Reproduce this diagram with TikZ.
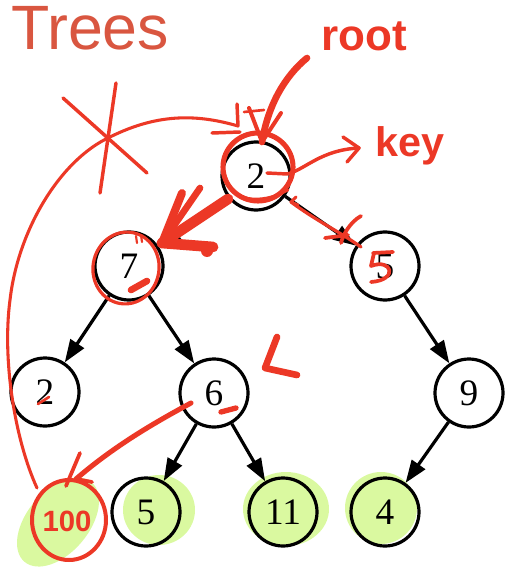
\documentclass[tikz,border=0pt]{standalone}
\usepackage{fontspec}
\setmainfont{Liberation Serif}
\newfontfamily\titlefont{Liberation Sans}
\newfontfamily\handfont{Liberation Sans}
\usetikzlibrary{arrows.meta}
\definecolor{ink}{RGB}{236,56,38}
\definecolor{titlered}{RGB}{217,86,64}
\definecolor{hilite}{RGB}{218,249,160}
\begin{document}
\begin{tikzpicture}[x=0.75pt,y=-0.75pt,
  tnode/.style={circle,draw=black,line width=2.4pt,minimum size=51pt,inner sep=0pt,font=\fontsize{28}{30}\selectfont},
  tedge/.style={line width=2.4pt,-{Triangle[length=17pt,width=12pt]}},
  pen/.style={draw=ink,line width=2.6pt,line cap=round,line join=round},
  thickpen/.style={pen,line width=5pt},
  blob/.style={fill=hilite},
  handtext/.style={text=ink,inner sep=0pt}]
\path[use as bounding box] (0,0) rectangle (506,570);

% title
\node[anchor=base west,inner sep=0pt,text=titlered,font=\titlefont\fontsize{47}{50}\selectfont] (title) at (11,50) {Trees};

% highlights
\fill[blob,rotate around={50:(58,522)}] (58,522) ellipse [x radius=52, y radius=31];
\fill[blob] (159,510) ellipse [x radius=36, y radius=35];
\fill[blob] (286,509) ellipse [x radius=43, y radius=37];
\fill[blob] (381,508) ellipse [x radius=36, y radius=36];

% tree
\node[tnode] (r) at (256,176) {2};
\node[tnode] (a) at (129,266) {7};
\node[tnode] (b) at (385,266) {5};
\node[tnode] (c) at (45,392) {2};
\node[tnode] (d) at (214,393) {6};
\node[tnode] (e) at (469,393) {9};
\node[tnode] (f) at (146,512) {5};
\node[tnode] (g) at (283,512) {11};
\node[tnode] (h) at (385,512) {4};

\draw[tedge] (r) -- (a);
\draw[tedge] (r) -- (b);
\draw[tedge] (a) -- (c);
\draw[tedge] (a) -- (d);
\draw[tedge] (b) -- (e);
\draw[tedge] (d) -- (f);
\draw[tedge] (d) -- (g);
\draw[tedge] (e) -- (h);

% handwritten node 100
\node[handtext,font=\handfont\bfseries\fontsize{22}{24}\selectfont] (hund) at (67,521) {100};
\draw[pen,line width=3pt] (69,520) ellipse [x radius=37, y radius=40];

% annotations: root
\node[handtext,font=\handfont\bfseries\fontsize{33}{36}\selectfont] (rootlbl) at (364,36) {root};
\coordinate (rootstart) at (307,58);
\coordinate (roottip) at (262,142);
\draw[pen,line width=5pt] (rootstart) .. controls (285,76) and (268,105) .. (roottip);
\draw[pen,line width=3pt] (249,108) -- (roottip) -- (281,113);
\draw[pen,line width=2pt] (244,112) -- (264,110);

% key
\node[handtext,font=\handfont\bfseries\fontsize{31}{34}\selectfont] (keylbl) at (410,146) {key};
\coordinate (keystart) at (267,173);
\coordinate (keytip) at (359,148);
\draw[pen] (keystart) -- (287,174) .. controls (305,170) and (320,150) .. (keytip);
\draw[pen] (343,137) -- (keytip) -- (347,162);

% circle around root
\draw[pen,line width=3.8pt] (258,167) ellipse [x radius=35, y radius=34];
\draw[pen,line width=2pt] (226,178) .. controls (228,200) and (260,206) .. (288,190);

% long curve from 100 to root, with asterisk
\coordinate (curvestart) at (37,488);
\coordinate (curvetip) at (238,126);
\draw[pen,line width=2.3pt] (curvestart) .. controls (15,440) and (2,360) .. (10,300)
  .. controls (18,230) and (60,160) .. (110,137)
  .. controls (160,112) and (200,115) .. (curvetip);
\draw[pen] (237,104) -- (curvetip);
\draw[pen] (212,133) -- (240,132);
\draw[pen] (63,98) -- (147,173);
\draw[pen] (116,83) -- (100,193);

% thick arrow root to 7
\coordinate (thicktip) at (162,243);
\draw[thickpen,line width=8pt] (228,199) -- (thicktip);
\draw[thickpen,line width=6pt] (thicktip) -- (182,193);
\draw[thickpen] (thicktip) -- (200,188);
\draw[thickpen,line width=8pt] (thicktip) -- (213,247);
\fill[ink] (207,251) circle [radius=6];

% circle around 7 and marks
\draw[pen,line width=2.4pt,rotate around={-10:(126,268)}] (126,268) ellipse [x radius=33, y radius=36];
\draw[pen,line width=1.6pt] (136,236) -- (137,243);
\draw[pen,line width=1.6pt] (141,235) -- (142,242);
\draw[thickpen] (131,290) -- (147,281);

% root to 5 line with cross
\draw[pen,line width=2.2pt] (296,197) -- (291,202) -- (298,205);
\draw[pen,line width=2.4pt] (291,202) .. controls (315,220) and (340,232) .. (361,247);
\draw[pen,line width=2.8pt] (325,238) -- (348,235);
\draw[pen,line width=2.8pt] (361,216) .. controls (350,222) and (343,235) .. (341,243);

% red 5 over node 5
\draw[pen,line width=2.8pt] (373,253) -- (393,252);
\draw[pen,line width=2.8pt] (374,253) -- (371,266) .. controls (392,258) and (399,280) .. (371,282);

% L mark
\draw[thickpen] (277,337) -- (265,368) -- (297,375);

% marks on 2 and 6
\draw[pen,line width=2pt] (38,404) -- (49,397);
\draw[thickpen,line width=4pt] (221,412) -- (236,408);

% arrow 6 to 100
\coordinate (hundtip) at (76,479);
\draw[pen,line width=3.8pt] (191,403) .. controls (150,425) and (112,448) .. (hundtip);
\draw[pen,line width=2.8pt] (66,486) -- (80,453);
\draw[pen,line width=2.8pt] (hundtip) -- (92,482);
\end{tikzpicture}
\end{document}
